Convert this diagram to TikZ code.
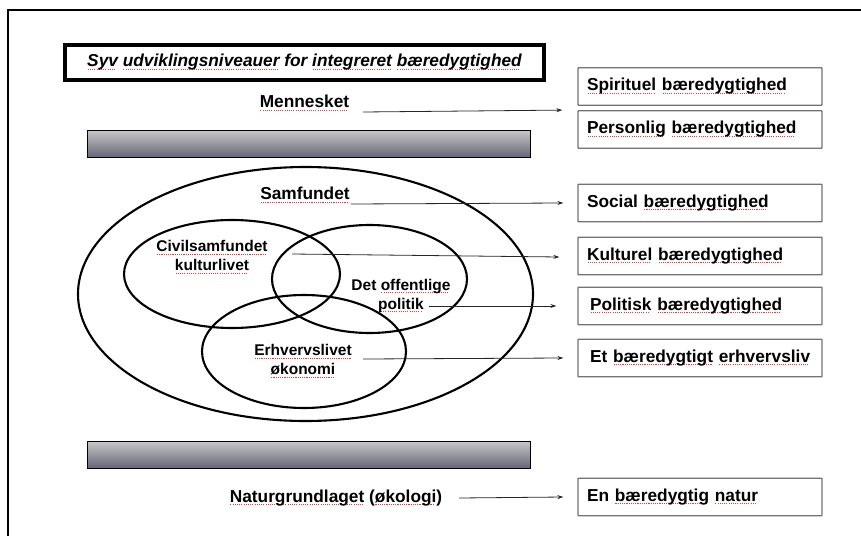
\documentclass[tikz,border=0pt]{standalone}
\usepackage{fontspec}
\setmainfont{Liberation Sans}
\usetikzlibrary{arrows.meta,calc}
\newcommand\sq[1]{\setbox0=\hbox{#1}\rlap{\raisebox{-2.6pt}{\color{red!80}\hbox to \wd0{\leaders\hbox to 2.2pt{\hss\rule{1.1pt}{0.9pt}\hss}\hfill}}}\box0\relax}
\tikzset{
  big/.style={font=\fontsize{17.3}{20}\selectfont\bfseries},
  small/.style={font=\fontsize{15.5}{19}\selectfont\bfseries, align=center},
  rbox/.style={draw=black!55, line width=1.3pt, rounded corners=0.6pt, text width=226pt, inner xsep=9pt, inner ysep=0pt, minimum height=37.5pt, align=left, big},
  titlebox/.style={draw=black, line width=3.6pt, minimum width=479pt, minimum height=35.5pt, inner sep=0pt,
    font=\fontsize{17.3}{20}\selectfont\bfseries\itshape},
  bar/.style={draw=black, line width=1.5pt, minimum width=443pt, minimum height=27pt, inner sep=0pt,
    top color=black!22, middle color=black!10, bottom color={rgb,255:red,100;green,100;blue,120}},
  venn/.style={draw=black, line width=2.1pt},
  arr/.style={draw=black!85, line width=0.8pt, -{Stealth[length=6pt,width=4pt]}},
  frame/.style={draw=black, line width=2pt}
}
\begin{document}
\begin{tikzpicture}[x=1pt,y=-1pt]
\useasboundingbox (0,0) rectangle (861,535);
% page frame
\draw[frame] (8,536) -- (8,10) -- (862,10);

% title
\node[titlebox] (title) at (304.5,62.5) {\sq{Syv} \sq{udviklingsniveauer} for \sq{integreret} \sq{bæredygtighed}};

% right boxes
\node[rbox] (spir) at (700,86.5) {\sq{Spirituel} \sq{bæredygtighed}};
\node[rbox] (pers) at (700,129.5) {\sq{Personlig} \sq{bæredygtighed}};
\node[rbox] (soc) at (700,203) {Social \sq{bæredygtighed}};
\node[rbox] (kult) at (700,256) {\sq{Kulturel} \sq{bæredygtighed}};
\node[rbox] (pol) at (700,306) {\hspace{3pt}\sq{Politisk} \sq{bæredygtighed}};
\node[rbox] (erh) at (700,358) {\hspace{3pt}Et \sq{bæredygtigt} \sq{erhvervsliv}};
\node[rbox] (nat) at (700,497) {En \sq{bæredygtig} \sq{natur}};

% bars
\node[bar] (bar1) at (309,144) {};
\node[bar] (bar2) at (309,455) {};

% ellipses
\coordinate (co) at (305.5,294);
\coordinate (cc) at (232,274);
\coordinate (cd) at (369.5,279);
\coordinate (ce) at (304,351.5);
\draw[venn] (co) ellipse [x radius=227.5, y radius=127];
\draw[venn] (cc) ellipse [x radius=108, y radius=54];
\draw[venn] (cd) ellipse [x radius=97.5, y radius=54];
\draw[venn] (ce) ellipse [x radius=102, y radius=56.5];

% texts
\node[big] (men) at (304.5,103) {\sq{Mennesket}};
\node[big] (samf) at (305,195) {\sq{Samfundet}};
\node[small] (civ) at (212,257) {\sq{Civilsamfundet}\\\sq{kulturlivet}};
\node[small] (off) at (401,295.5) {Det \sq{offentlige}\\\sq{politik}};
\node[small] (erv) at (303,361) {\sq{Erhvervslivet}\\\sq{økonomi}};
\node[big] (natg) at (336,498) {\sq{Naturgrundlaget} (\sq{økologi})};

% arrow start points
\coordinate (mA) at (363,112);
\coordinate (sA) at (351,204);
\coordinate (cA) at (292,254);
\coordinate (oA) at (429,306);
\coordinate (eA) at (363,359);
\coordinate (nA) at (459,498);

\draw[arr] (mA) -- ($(pers.north west)+(-15,0)$);
\draw[arr] (sA) -- ($(soc.west)+(-14,0)$);
\draw[arr] (cA) -- ($(kult.west)+(-18,1)$);
\draw[arr] (oA) -- ($(pol.west)+(-21,0)$);
\draw[arr] (eA) -- ($(erh.west)+(-14,0)$);
\draw[arr] (nA) -- ($(nat.west)+(-14,0)$);
\end{tikzpicture}
\end{document}
